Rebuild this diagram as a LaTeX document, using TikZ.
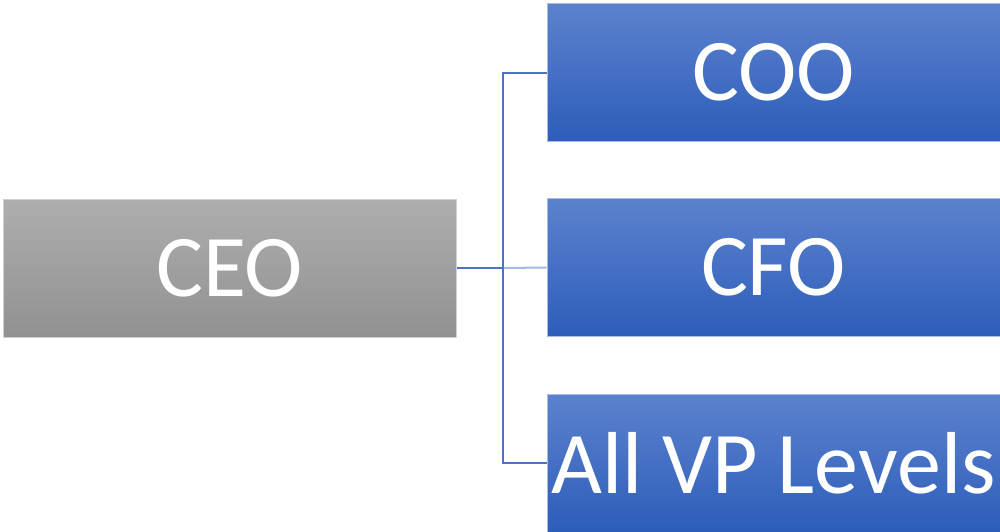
\documentclass[tikz,border=0pt]{standalone}
\usepackage{fontspec}
\setmainfont{Carlito}
\begin{document}
\begin{tikzpicture}[x=1pt,y=-1pt,
  bluebox/.style={rectangle, inner sep=0pt, minimum width=453pt, minimum height=138pt,
    top color=boxtop, bottom color=boxbot, draw=boxedge, line width=1pt,
    text=white, font=\fontsize{88}{88}\selectfont},
  graybox/.style={bluebox, top color=graytop, bottom color=graybot, draw=grayedge},
  link/.style={draw=linkblue, line width=2pt}]
\definecolor{boxtop}{HTML}{5C82CE}
\definecolor{boxbot}{HTML}{2D5DB9}
\definecolor{boxedge}{HTML}{A9BCE6}
\definecolor{graytop}{HTML}{AEAEAE}
\definecolor{graybot}{HTML}{919191}
\definecolor{grayedge}{HTML}{D0D0D0}
\definecolor{linkblue}{HTML}{4A74C6}
\useasboundingbox (0,0) rectangle (1000,531);
\node[graybox] (ceo) at (229.5,268) {CEO};
\node[bluebox] (coo) at (773.5,72.5) {COO};
\node[bluebox] (cfo) at (773.5,267.5) {CFO};
\node[bluebox] (vp) at (773.5,463) {All VP Levels};
\coordinate (fork) at (503,268);
\draw[link] (ceo.east) -- (fork);
\draw[link, draw opacity=0.5] (fork) -- (cfo.west);
\draw[link] (coo.west) -| (fork) |- (vp.west);
\end{tikzpicture}
\end{document}
